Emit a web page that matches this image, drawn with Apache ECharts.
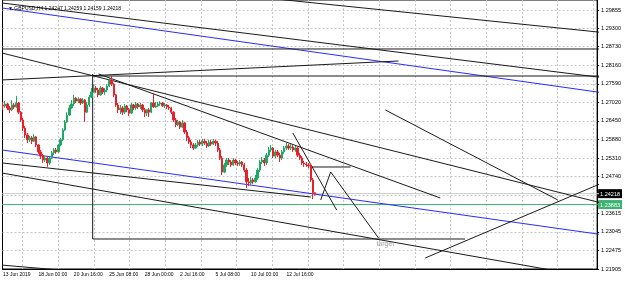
<!DOCTYPE html>
<html><head><meta charset="utf-8">
<script src="https://cdn.jsdelivr.net/npm/echarts@6/dist/echarts.min.js"></script>
<style>html,body{margin:0;padding:0;background:#fff}#c{width:625px;height:282px}</style>
</head><body><div id="c"></div>
<script>
// H4 candles: [open, close, low, high]
const ohlc = [
[1.2694,1.2691,1.2679,1.2703],[1.2691,1.2697,1.2685,1.2706],[1.2697,1.2685,1.2679,1.2700],[1.2685,1.2679,1.2669,1.2691],
[1.2679,1.2694,1.2675,1.2709],[1.2694,1.2688,1.2682,1.2700],[1.2688,1.2700,1.2685,1.2722],[1.2700,1.2672,1.2666,1.2703],
[1.2672,1.2648,1.2642,1.2675],[1.2648,1.2623,1.2614,1.2654],[1.2623,1.2602,1.2593,1.2629],[1.2602,1.2587,1.2577,1.2608],
[1.2587,1.2593,1.2580,1.2599],[1.2593,1.2583,1.2574,1.2599],[1.2583,1.2596,1.2580,1.2605],[1.2596,1.2571,1.2565,1.2599],
[1.2571,1.2550,1.2544,1.2574],[1.2550,1.2537,1.2528,1.2556],[1.2537,1.2525,1.2516,1.2544],[1.2525,1.2531,1.2519,1.2537],
[1.2531,1.2516,1.2504,1.2537],[1.2516,1.2531,1.2510,1.2534],[1.2531,1.2547,1.2528,1.2553],[1.2547,1.2556,1.2540,1.2562],
[1.2556,1.2550,1.2544,1.2562],[1.2550,1.2571,1.2547,1.2574],[1.2571,1.2587,1.2568,1.2593],[1.2587,1.2617,1.2583,1.2623],
[1.2617,1.2642,1.2614,1.2648],[1.2642,1.2663,1.2639,1.2672],[1.2663,1.2685,1.2660,1.2694],[1.2685,1.2697,1.2682,1.2709],
[1.2697,1.2715,1.2691,1.2725],[1.2715,1.2706,1.2700,1.2718],[1.2706,1.2712,1.2700,1.2718],[1.2712,1.2700,1.2694,1.2715],
[1.2700,1.2709,1.2697,1.2715],[1.2709,1.2672,1.2642,1.2712],[1.2672,1.2694,1.2669,1.2703],[1.2694,1.2718,1.2688,1.2725],
[1.2718,1.2734,1.2715,1.2746],[1.2734,1.2746,1.2731,1.2758],[1.2746,1.2740,1.2731,1.2752],[1.2740,1.2725,1.2718,1.2746],
[1.2725,1.2746,1.2722,1.2752],[1.2746,1.2734,1.2728,1.2749],[1.2734,1.2740,1.2725,1.2746],[1.2740,1.2752,1.2734,1.2758],
[1.2752,1.2771,1.2749,1.2777],[1.2771,1.2758,1.2752,1.2783],[1.2758,1.2725,1.2718,1.2761],[1.2725,1.2694,1.2688,1.2728],
[1.2694,1.2679,1.2669,1.2700],[1.2679,1.2685,1.2666,1.2694],[1.2685,1.2672,1.2663,1.2691],[1.2672,1.2691,1.2666,1.2697],
[1.2691,1.2679,1.2672,1.2694],[1.2679,1.2669,1.2660,1.2685],[1.2669,1.2694,1.2666,1.2700],[1.2694,1.2685,1.2679,1.2697],
[1.2685,1.2697,1.2679,1.2703],[1.2697,1.2688,1.2682,1.2700],[1.2688,1.2694,1.2682,1.2700],[1.2694,1.2679,1.2672,1.2697],
[1.2679,1.2669,1.2657,1.2685],[1.2669,1.2679,1.2660,1.2682],[1.2679,1.2672,1.2657,1.2685],[1.2672,1.2700,1.2669,1.2703],
[1.2700,1.2688,1.2685,1.2731],[1.2688,1.2691,1.2685,1.2703],[1.2691,1.2697,1.2688,1.2703],[1.2697,1.2700,1.2691,1.2706],
[1.2700,1.2691,1.2688,1.2703],[1.2691,1.2694,1.2685,1.2700],[1.2694,1.2688,1.2682,1.2697],[1.2688,1.2685,1.2679,1.2694],
[1.2685,1.2672,1.2666,1.2688],[1.2672,1.2648,1.2642,1.2675],[1.2648,1.2633,1.2626,1.2654],[1.2633,1.2642,1.2629,1.2648],
[1.2642,1.2626,1.2620,1.2645],[1.2626,1.2639,1.2623,1.2648],[1.2639,1.2611,1.2605,1.2642],[1.2611,1.2593,1.2583,1.2617],
[1.2593,1.2580,1.2574,1.2599],[1.2580,1.2571,1.2562,1.2587],[1.2571,1.2562,1.2556,1.2577],[1.2562,1.2571,1.2559,1.2577],
[1.2571,1.2580,1.2565,1.2587],[1.2580,1.2574,1.2568,1.2587],[1.2574,1.2583,1.2568,1.2590],[1.2583,1.2577,1.2571,1.2590],
[1.2577,1.2568,1.2562,1.2583],[1.2568,1.2580,1.2565,1.2587],[1.2580,1.2574,1.2568,1.2587],[1.2574,1.2583,1.2571,1.2590],
[1.2583,1.2577,1.2568,1.2587],[1.2577,1.2556,1.2550,1.2583],[1.2556,1.2531,1.2525,1.2562],[1.2531,1.2488,1.2479,1.2537],
[1.2488,1.2510,1.2485,1.2516],[1.2510,1.2525,1.2504,1.2531],[1.2525,1.2519,1.2510,1.2531],[1.2519,1.2510,1.2504,1.2525],
[1.2510,1.2525,1.2507,1.2531],[1.2525,1.2516,1.2510,1.2528],[1.2516,1.2513,1.2507,1.2522],[1.2513,1.2519,1.2507,1.2525],
[1.2519,1.2510,1.2504,1.2522],[1.2510,1.2494,1.2488,1.2516],[1.2494,1.2458,1.2439,1.2500],[1.2458,1.2455,1.2445,1.2470],
[1.2455,1.2464,1.2448,1.2473],[1.2464,1.2458,1.2451,1.2470],[1.2458,1.2470,1.2455,1.2479],[1.2470,1.2494,1.2464,1.2500],
[1.2494,1.2519,1.2488,1.2525],[1.2519,1.2525,1.2513,1.2534],[1.2525,1.2516,1.2507,1.2531],[1.2516,1.2540,1.2510,1.2547],
[1.2540,1.2556,1.2534,1.2565],[1.2556,1.2562,1.2550,1.2571],[1.2562,1.2537,1.2531,1.2565],[1.2537,1.2550,1.2531,1.2556],
[1.2550,1.2540,1.2534,1.2556],[1.2540,1.2531,1.2519,1.2547],[1.2531,1.2550,1.2525,1.2556],[1.2550,1.2562,1.2544,1.2568],
[1.2562,1.2568,1.2556,1.2577],[1.2568,1.2562,1.2556,1.2574],[1.2562,1.2565,1.2556,1.2574],[1.2565,1.2556,1.2550,1.2571],
[1.2556,1.2562,1.2550,1.2568],[1.2562,1.2540,1.2534,1.2568],[1.2540,1.2531,1.2525,1.2547],[1.2531,1.2516,1.2510,1.2537],
[1.2516,1.2513,1.2504,1.2522],[1.2513,1.2510,1.2504,1.2519],[1.2510,1.2507,1.2500,1.2516],[1.2507,1.2464,1.2458,1.2513],
[1.2464,1.2425,1.2405,1.2470],[1.24247,1.24218,1.24159,1.24259]
];
const xLabelBars = [0,16,32,48,64,80,96,112,128];
const xLabels = ['13 Jun 2019','18 Jun 00:00','20 Jun 16:00','25 Jun 08:00','28 Jun 00:00','2 Jul 16:00','5 Jul 08:00','10 Jul 00:00','12 Jul 16:00'];
const xGridBars = [8.9,25.0,41.1,57.2,73.3,89.4,105.5,121.6,137.7,153.8,169.9,186.0,202.1,218.2,234.3,250.4,266.5];
const yLabels = [1.29855,1.29300,1.28730,1.28160,1.27590,1.27020,1.26450,1.25880,1.25310,1.24740,1.23615,1.23045,1.22475,1.21905];
const yGrid = [1.29855,1.29300,1.28730,1.28160,1.27590,1.27020,1.26450,1.25880,1.25310,1.24740,1.24170,1.23615,1.23045,1.22475,1.21905];
const titleText = 'GBPUSD,H4 1.24247 1.24259 1.24159 1.24218';
const bidPrice = 1.24218;
const greenLevel = 1.23883;
const targetLabel = {text:'target', at:[172.7,1.22673]};
// trend lines: points [barIndex, price]
const blueLines = [
  [[-1,1.29922],[270,1.27323]],
  [[-1,1.25564],[270,1.22964]]
];
const blackLines = [
  [[118.9,1.30223],[270,1.29171]],
  [[-1,1.30075],[270,1.27786]],
  [[-1,1.28658],[270,1.28658]],
  [[40.5,1.27829],[270,1.27829]],
  [[-1,1.27706],[178.6,1.28290]],
  [[-1,1.28544],[270,1.23937]],
  [[43.2,1.27891],[197.5,1.24085]],
  [[40.5,1.27891],[40.5,1.22826],[208.7,1.22826]],
  [[-1,1.25165],[139,1.24115]],
  [[-1,1.24858],[260,1.21724]],
  [[-1,1.22028],[27,1.21866]],
  [[130.9,1.26080],[150.7,1.23716]],
  [[143.5,1.24023],[148.0,1.24883],[169.6,1.22857]],
  [[139,1.25036],[157,1.25036]],
  [[172.7,1.26786],[250.6,1.24023]],
  [[190.7,1.22243],[270,1.24527]]
];

const UP = '#1fa866', DOWN = '#e8202a';
const FONT = 'Liberation Sans';
const XMIN = -0.22, XMAX = 268.34, YMIN = 1.21905, YMAX = 1.30162;
const chart = echarts.init(document.getElementById('c'), null, {renderer:'canvas'});
const series = [];
series.push({type:'line',data:[[-1,bidPrice],[270,bidPrice]],symbol:'none',silent:true,z:1,
  lineStyle:{color:'#c8c8c8',width:1}});
series.push({type:'line',data:[[-1,greenLevel],[270,greenLevel]],symbol:'none',silent:true,z:2,
  lineStyle:{color:'#3cb371',width:1}});
series.push({
  type:'candlestick', data: ohlc.map((d,i)=>[i].concat(d)), encode:{x:0,y:[1,2,3,4]},
  barWidth:1.8, z:5,
  itemStyle:{color:UP,color0:DOWN,borderColor:UP,borderColor0:DOWN,borderWidth:1}
});
blueLines.forEach(p=>series.push({type:'line',data:p,symbol:'none',silent:true,z:3,
  lineStyle:{color:'#2a2aff',width:1}}));
blackLines.forEach(p=>series.push({type:'line',data:p,symbol:'none',silent:true,z:3,
  lineStyle:{color:'#1a1a1a',width:1}}));
series.push({type:'scatter',data:[targetLabel.at],symbolSize:0,silent:true,z:6,
  label:{show:true,formatter:targetLabel.text,position:'inside',color:'#8a8a8a',fontSize:7,fontFamily:FONT}});

const boxValues = [bidPrice, greenLevel];
chart.setOption({
  animation:false,
  title:{text:'\u25BC '+titleText,left:3,top:1,textStyle:{fontSize:5,fontWeight:'normal',color:'#000',fontFamily:FONT}},
  grid:{left:1,right:27,top:0,bottom:13,show:true,borderColor:'#000',borderWidth:1},
  xAxis:{type:'value',min:XMIN,max:XMAX,
    axisLine:{show:true,onZero:false,lineStyle:{color:'#000'}},
    axisTick:{show:false,customValues:xGridBars},
    splitLine:{show:true,lineStyle:{color:'#c8c8c8',type:[2,2],width:1}},
    axisLabel:{customValues:xLabelBars,formatter:v=>xLabels[xLabelBars.indexOf(Math.round(v))]||'',
      align:'left',fontSize:5,fontFamily:FONT,color:'#000',margin:3}},
  yAxis:[{type:'value',position:'right',min:YMIN,max:YMAX,
    axisLine:{show:true,onZero:false,lineStyle:{color:'#000'}},
    axisTick:{show:true,customValues:yGrid,length:2,lineStyle:{color:'#000'}},
    splitLine:{show:true,lineStyle:{color:'#c8c8c8',type:[2,2],width:1}},
    axisLabel:{customValues:yLabels,formatter:v=>v.toFixed(5),fontSize:5.5,fontFamily:FONT,color:'#000',margin:4}},
   {type:'value',position:'right',min:YMIN,max:YMAX,
    axisLine:{show:false,onZero:false},axisTick:{show:false},splitLine:{show:false},
    axisLabel:{customValues:boxValues,margin:1,hideOverlap:false,
      formatter:v=>(Math.abs(v-bidPrice)<1e-6?'{b|':'{g|')+v.toFixed(5)+'}',
      rich:{b:{backgroundColor:'#000',color:'#fff',fontSize:5.5,fontFamily:FONT,padding:[2,2,1,2]},
            g:{backgroundColor:'#3cb371',color:'#fff',fontSize:5.5,fontFamily:FONT,padding:[2,2,1,2]}}}}],
  series:series
});
</script></body></html>
